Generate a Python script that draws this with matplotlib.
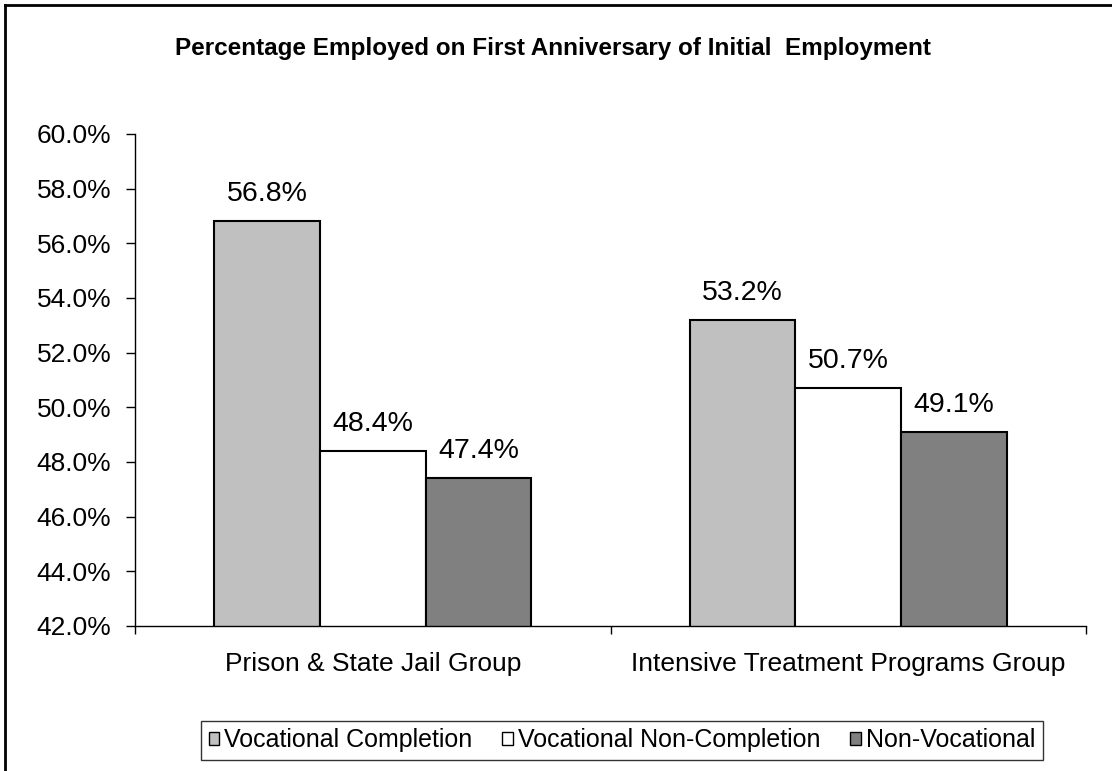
import numpy as np
import matplotlib
matplotlib.use("Agg")
import matplotlib.pyplot as plt
from matplotlib.lines import Line2D
from matplotlib.ticker import FuncFormatter

plt.rcParams['font.family'] = ['Liberation Sans', 'DejaVu Sans']

# data
groups = ['Prison & State Jail Group', 'Intensive Treatment Programs Group']
series = ['Vocational Completion', 'Vocational Non-Completion', 'Non-Vocational']
completion = [56.8, 53.2]
non_completion = [48.4, 50.7]
non_vocational = [47.4, 49.1]
colors = ['#C0C0C0', '#FFFFFF', '#808080']

values = [completion, non_completion, non_vocational]

fig = plt.figure(figsize=(11.12, 7.71), dpi=100)
ax = fig.add_axes([135 / 1112, 1 - 626 / 771, (1086 - 135) / 1112, (626 - 134) / 771])

x = np.arange(len(groups))
width = 1 / 4.5
for i, (name, vals, col) in enumerate(zip(series, values, colors)):
    pos = x + (i - 1) * width
    bars = ax.bar(pos, vals, width, bottom=0, color=col, edgecolor='black',
                  linewidth=1.5, label=name)
    for b, v in zip(bars, vals):
        ax.annotate(f'{v:.1f}%', (b.get_x() + b.get_width() / 2, v),
                    xytext=(0, 14.5), textcoords='offset points',
                    ha='center', va='baseline', fontsize=20.5)

ax.set_ylim(42, 60)
ax.set_xlim(-0.5, 1.5)
ax.set_yticks(np.arange(42, 60.1, 2))
ax.yaxis.set_major_formatter(FuncFormatter(lambda v, p: f'{v:.1f}%'))
ax.tick_params(axis='y', labelsize=19, length=6.5, width=1, pad=10.5)

# category labels between the boundary ticks
ax.set_xticks([-0.5, 0.5, 1.5])
ax.set_xticklabels([])
ax.set_xticks(x, minor=True)
ax.set_xticklabels(groups, minor=True, fontsize=19)
ax.tick_params(axis='x', which='major', length=6, width=1, direction='out')
ax.tick_params(axis='x', which='minor', length=0, pad=18.5)

for s in ['top', 'right']:
    ax.spines[s].set_visible(False)
for s in ['left', 'bottom']:
    ax.spines[s].set_linewidth(1)

fig.text(553 / 1112, 1 - 49 / 771,
         'Percentage Employed on First Anniversary of Initial  Employment',
         ha='center', va='center', fontsize=17.5, fontweight='bold')

leg = fig.legend(loc='center', bbox_to_anchor=(622 / 1112, 1 - 740 / 771), ncol=3,
                 fontsize=18, frameon=True, fancybox=False, edgecolor='black',
                 handlelength=0.42, handleheight=0.42, handletextpad=0.2,
                 columnspacing=1.2, borderpad=0.3, borderaxespad=0)
leg.get_frame().set_linewidth(1)
for h in leg.legend_handles:
    h.set_linewidth(1)

# outer chart border (left and top edges)
fig.add_artist(Line2D([5 / 1112, 5 / 1112], [0, 1 - 5 / 771], color='black', lw=2,
                      transform=fig.transFigure))
fig.add_artist(Line2D([5 / 1112, 1], [1 - 5 / 771, 1 - 5 / 771], color='black', lw=2,
                      transform=fig.transFigure))

fig.savefig('out.png', dpi=100)
